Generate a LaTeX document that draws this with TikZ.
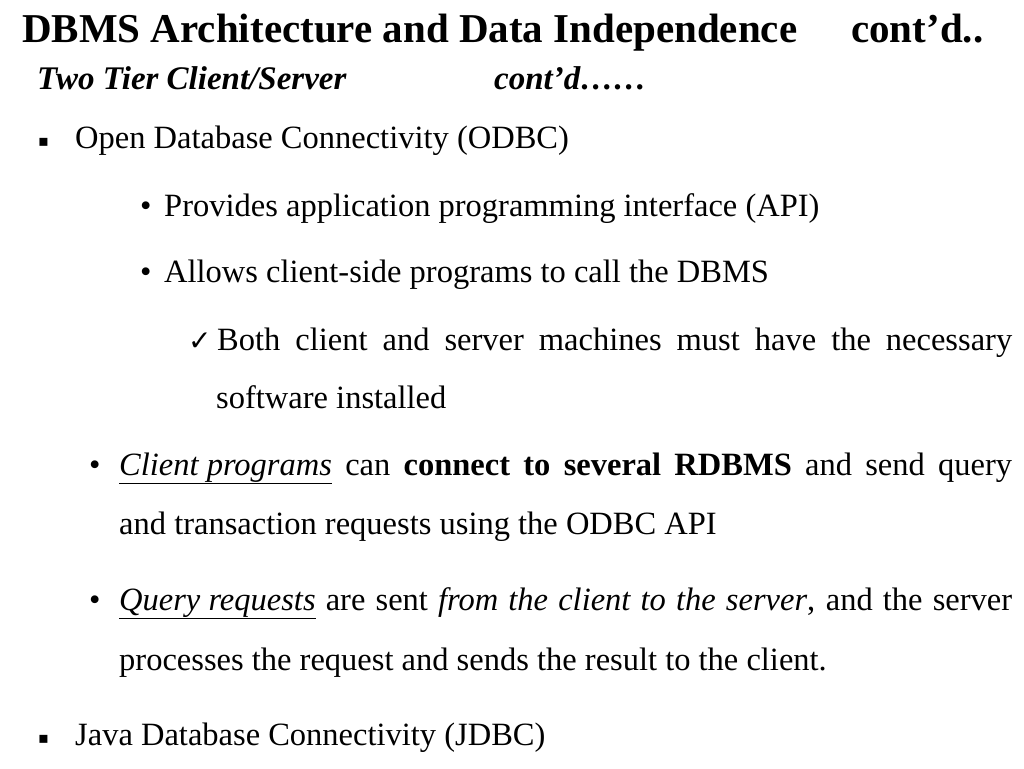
\documentclass[tikz,border=0pt]{standalone}
\usepackage{fontspec}
\setmainfont{Liberation Serif}
\newfontfamily\symf{DejaVu Sans}
\begin{document}
\begin{tikzpicture}[x=1pt,y=-1pt,
  t/.style={anchor=base west,inner sep=0pt,font=\fontsize{32.5}{36}\selectfont}]
\useasboundingbox[fill=white] (0,0) rectangle (1024,768);
\node[t,font=\bfseries\fontsize{41}{44}\selectfont] (title) at (22,43) {DBMS Architecture and Data Independence};
\node[t,font=\bfseries\fontsize{41}{44}\selectfont] (title2) at (851,43) {cont’d..};
\node[t,font=\bfseries\itshape\fontsize{33}{36}\selectfont] (sub) at (37,89) {Two Tier Client/Server};
\node[t,font=\bfseries\itshape\fontsize{33}{36}\selectfont] (sub2) at (494,89) {cont’d……};
\node[t,font=\symf\fontsize{16}{18}\selectfont] (b1) at (38,146) {▪};
\node[t] (l1) at (75,148) {Open Database Connectivity (ODBC)};
\node[t] (b2) at (140,216) {•};
\node[t] (l2) at (164,216) {Provides application programming interface (API)};
\node[t] (b3) at (140,282) {•};
\node[t] (l3) at (164,282) {Allows client-side programs to call the DBMS};
\node[t,font=\symf\fontsize{28}{30}\selectfont] (ck) at (188,350) {✓};
\node[t] (l4) at (217,350) {\makebox[795pt][s]{Both client and server machines must have the necessary}};
\node[t] (l5) at (216,408) {software installed};
\node[t] (b4) at (89,475) {•};
\node[t] (l6) at (119,475) {\makebox[893pt][s]{\underline{\itshape Client programs} can \textbf{connect to several RDBMS} and send query}};
\node[t] (l7) at (119,534) {and transaction requests using the ODBC API};
\node[t] (b5) at (89,610) {•};
\node[t] (l8) at (119,610) {\makebox[893pt][s]{\underline{\itshape Query requests} are sent \textit{from the client to the server}, and the server}};
\node[t] (l9) at (119,670) {processes the request and sends the result to the client.};
\node[t,font=\symf\fontsize{16}{18}\selectfont] (b6) at (38,743) {▪};
\node[t] (l10) at (75,745) {Java Database Connectivity (JDBC)};
\end{tikzpicture}
\end{document}
